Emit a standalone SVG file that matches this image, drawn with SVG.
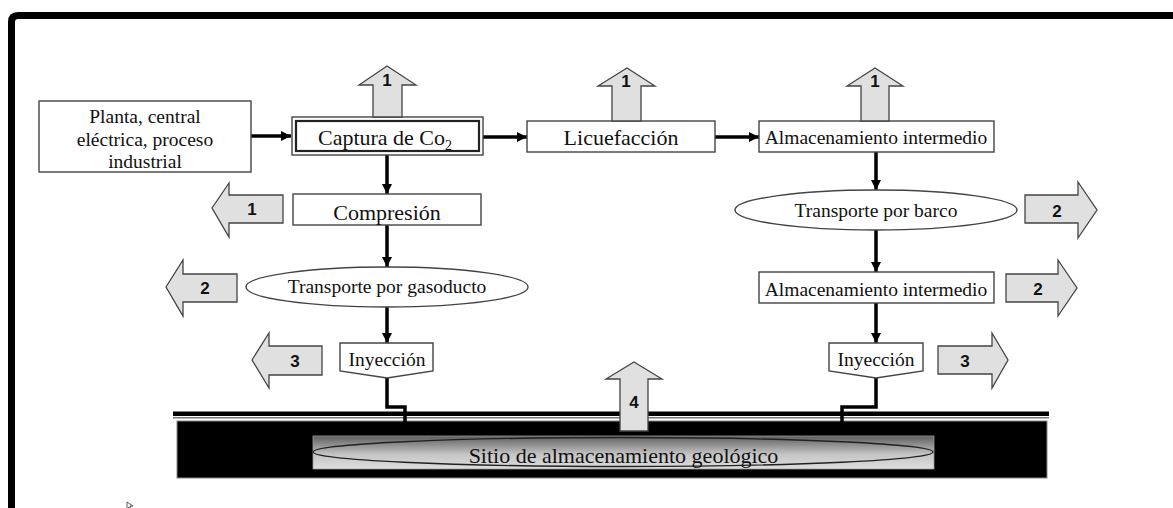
<svg xmlns="http://www.w3.org/2000/svg" width="1173" height="508" viewBox="0 0 1173 508">
<style>
.box{fill:#fff;stroke:#444;stroke-width:1.4}
.t{font-family:"Liberation Serif","Times New Roman",serif;fill:#111;text-anchor:middle}
.n{font-family:"Liberation Sans",Arial,sans-serif;font-weight:bold;font-size:17px;fill:#111;text-anchor:middle}
.blk{fill:#e0e0e0;stroke:#444;stroke-width:1.3;stroke-linejoin:miter}
.con{stroke:#000;stroke-width:3.5;fill:none}
</style>
<defs>
<marker id="ah" viewBox="0 0 10 10" refX="10" refY="5" markerWidth="10" markerHeight="10" markerUnits="userSpaceOnUse" orient="auto">
<path d="M0,0 L10,5 L0,10 z" fill="#000"/>
</marker>
<linearGradient id="grad" x1="0" y1="0" x2="0" y2="1">
<stop offset="0" stop-color="#5e5e5e"/>
<stop offset="0.55" stop-color="#c4c4c4"/>
<stop offset="1" stop-color="#dedede"/>
</linearGradient>
</defs>
<rect width="1173" height="508" fill="#fff"/>
<path d="M11.5,508 L11.5,22 Q11.5,15.5 18,15.5 L1173,15.5" fill="none" stroke="#000" stroke-width="7"/>

<g id="ground">
<rect x="173" y="411.5" width="876" height="4.5" fill="#000"/>
<line x1="173" y1="417.8" x2="1049" y2="417.8" stroke="#777" stroke-width="1.4"/>
<rect x="177" y="421" width="870" height="57" fill="#000" stroke="#888" stroke-width="1"/>
</g>

<g id="connectors">
<line class="con" x1="251" y1="136" x2="291" y2="136" marker-end="url(#ah)"/>
<line class="con" x1="483" y1="137" x2="527" y2="137" marker-end="url(#ah)"/>
<line class="con" x1="715" y1="137" x2="759" y2="137" marker-end="url(#ah)"/>
<line class="con" x1="387" y1="155" x2="387" y2="194" marker-end="url(#ah)"/>
<line class="con" x1="387" y1="225" x2="387" y2="267" marker-end="url(#ah)"/>
<line class="con" x1="387" y1="307" x2="387" y2="343" marker-end="url(#ah)"/>
<line class="con" x1="876" y1="152" x2="876" y2="190" marker-end="url(#ah)"/>
<line class="con" x1="876" y1="230" x2="876" y2="272" marker-end="url(#ah)"/>
<line class="con" x1="876" y1="303" x2="876" y2="343" marker-end="url(#ah)"/>
<polyline class="con" points="387,378 387,407 405,407 405,422"/>
<polyline class="con" points="876,378 876,407 842,407 842,422"/>
</g>

<g id="storage">
<rect x="313" y="436" width="621" height="33" fill="url(#grad)" stroke="#999" stroke-width="0.8"/>
<ellipse cx="623" cy="452" rx="310" ry="14.5" fill="none" stroke="#222" stroke-width="1.3"/>
<text class="t" x="623.5" y="463" font-size="22">Sitio de almacenamiento geológico</text>
</g>

<g id="planta">
<rect class="box" x="39" y="101" width="212" height="71"/>
<text class="t" x="145" y="123" font-size="19.5">Planta, central</text>
<text class="t" x="145" y="146" font-size="19.5">eléctrica, proceso</text>
<text class="t" x="145" y="168" font-size="19.5">industrial</text>
</g>

<g id="captura">
<rect class="box" x="292" y="117" width="191" height="38"/>
<rect x="296" y="121" width="183" height="30" fill="none" stroke="#222" stroke-width="2.2"/>
<text class="t" x="385" y="145" font-size="22">Captura de Co<tspan font-size="14" dy="5">2</tspan></text>
</g>

<g id="licuefaccion">
<rect class="box" x="527" y="121" width="188" height="31"/>
<text class="t" x="621" y="145" font-size="22">Licuefacción</text>
</g>

<g id="almacenamiento1">
<rect class="box" x="759" y="121" width="235" height="31"/>
<text class="t" x="876" y="144" font-size="19.5">Almacenamiento intermedio</text>
</g>

<g id="compresion">
<rect class="box" x="293" y="194" width="188" height="31"/>
<text class="t" x="387" y="220" font-size="22">Compresión</text>
</g>

<g id="gasoducto">
<ellipse class="box" cx="387" cy="287" rx="141" ry="20"/>
<text class="t" x="387" y="293" font-size="19.5">Transporte por gasoducto</text>
</g>

<g id="inyeccion1">
<polygon class="box" points="340,343 433,343 433,371 387,378 340,371"/>
<text class="t" x="387" y="366" font-size="19.5">Inyección</text>
</g>

<g id="barco">
<ellipse class="box" cx="876" cy="210" rx="141" ry="20"/>
<text class="t" x="876" y="217" font-size="19.5">Transporte por barco</text>
</g>

<g id="almacenamiento2">
<rect class="box" x="759" y="272" width="235" height="31"/>
<text class="t" x="876" y="296" font-size="19.5">Almacenamiento intermedio</text>
</g>

<g id="inyeccion2">
<polygon class="box" points="829,343 923,343 923,371 876,378 829,371"/>
<text class="t" x="876" y="366" font-size="19.5">Inyección</text>
</g>

<g id="up1a">
<polygon class="blk" points="373,117 373,85 359,85 387,66 416,85 402,85 402,117"/>
<text class="n" x="387" y="86">1</text>
</g>
<g id="up1b">
<polygon class="blk" points="612,121 612,86 598,86 627,68 655,86 641,86 641,121"/>
<text class="n" x="626" y="87">1</text>
</g>
<g id="up1c">
<polygon class="blk" points="861,121 861,86 847,86 875,68 903,86 889,86 889,121"/>
<text class="n" x="875" y="87">1</text>
</g>
<g id="up4">
<polygon class="blk" points="620,431 620,379 606,379 634,362 662,379 648,379 648,431"/>
<text class="n" x="634" y="408">4</text>
</g>
<g id="left1">
<polygon class="blk" points="212,208 229,183 229,195 283,195 283,223 229,223 229,237"/>
<text class="n" x="252" y="215">1</text>
</g>
<g id="left2">
<polygon class="blk" points="166,287 183,260 183,274 237,274 237,302 183,302 183,316"/>
<text class="n" x="205" y="294">2</text>
</g>
<g id="left3">
<polygon class="blk" points="252,360 269,333 269,346 322,346 322,375 269,375 269,388"/>
<text class="n" x="295" y="367">3</text>
</g>
<g id="right2a">
<polygon class="blk" points="1025,195 1078,195 1078,182 1097,210 1078,238 1078,223 1025,223"/>
<text class="n" x="1057" y="217">2</text>
</g>
<g id="right2b">
<polygon class="blk" points="1006,274 1058,274 1058,260 1077,288 1058,316 1058,302 1006,302"/>
<text class="n" x="1038" y="295">2</text>
</g>
<g id="right3">
<polygon class="blk" points="938,346 992,346 992,333 1008,360 992,388 992,374 938,374"/>
<text class="n" x="965" y="367">3</text>
</g>

<path d="M127,502 L127,509 L129,507 L131,511 L132,510 L130,506 L133,506 Z" fill="#fff" stroke="#333" stroke-width="0.8"/>
</svg>
